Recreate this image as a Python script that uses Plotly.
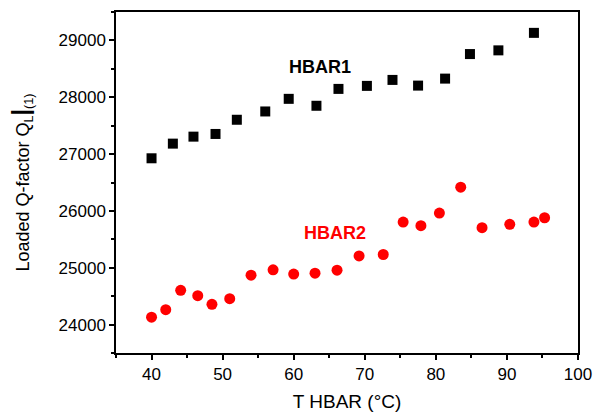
import plotly.graph_objects as go

# HBAR1 (black squares)
t_hbar1 = [40.0, 43.0, 45.9, 49.0, 52.0, 56.0, 59.3, 63.2, 66.3, 70.3, 73.9, 77.5, 81.3, 84.8, 88.8, 93.8]
q_hbar1 = [26926, 27184, 27307, 27354, 27604, 27750, 27972, 27850, 28147, 28200, 28305, 28205, 28328, 28760, 28825, 29133]

# HBAR2 (red circles)
t_hbar2 = [40.0, 42.0, 44.1, 46.5, 48.5, 51.0, 54.0, 57.1, 60.0, 63.0, 66.1, 69.2, 72.6, 75.4, 77.9, 80.5, 83.5, 86.5, 90.4, 93.8, 95.3]
q_hbar2 = [24130, 24263, 24602, 24508, 24357, 24455, 24870, 24963, 24888, 24905, 24958, 25208, 25233, 25804, 25741, 25962, 26418, 25706, 25764, 25804, 25880]

FONT = "Liberation Sans, Arial, sans-serif"

fig = go.Figure()
fig.add_trace(go.Scatter(
    x=t_hbar1, y=q_hbar1, mode="markers", name="HBAR1",
    marker=dict(symbol="square", size=10, color="black"),
))
fig.add_trace(go.Scatter(
    x=t_hbar2, y=q_hbar2, mode="markers", name="HBAR2",
    marker=dict(symbol="circle", size=11, color="#ff0000"),
))

fig.add_annotation(x=63.7, y=28530, text="<b>HBAR1</b>", showarrow=False,
                   font=dict(family=FONT, size=18, color="black"))
fig.add_annotation(x=65.8, y=25620, text="<b>HBAR2</b>", showarrow=False,
                   font=dict(family=FONT, size=18, color="#ff0000"))

axis_common = dict(
    showline=True, linecolor="black", linewidth=1.5, mirror=True,
    ticks="outside", ticklen=5, tickwidth=1.5, tickcolor="black",
    showgrid=False, zeroline=False, tickformat="d", automargin=False,
    tickfont=dict(family=FONT, size=17, color="black"),
)

fig.update_xaxes(
    range=[35, 100], dtick=10, tick0=0,
    minor=dict(dtick=5, ticks="outside", ticklen=3, tickwidth=1.5, tickcolor="black"),
    title=dict(text="T HBAR (°C)", font=dict(family=FONT, size=19, color="black"), standoff=15),
    **axis_common,
)
fig.update_yaxes(
    range=[23500, 29500], dtick=1000, tick0=0,
    minor=dict(dtick=500, ticks="outside", ticklen=3, tickwidth=1.5, tickcolor="black"),
    title=dict(text="Loaded Q-factor Q<sub>L</sub><span style='font-size:23px'><b>|</b></span><sub>(1)</sub>",
               font=dict(family=FONT, size=18, color="black"), standoff=24),
    **axis_common,
)

fig.update_layout(
    width=600, height=412,
    showlegend=False,
    plot_bgcolor="white", paper_bgcolor="white",
    margin=dict(l=116, r=22, t=12, b=59),
)

# drop the page's default 8px body margin so the figure sits at the window origin
fig.write_html("out.html", config={"displayModeBar": False},
               post_script="document.body.style.margin='0';")
